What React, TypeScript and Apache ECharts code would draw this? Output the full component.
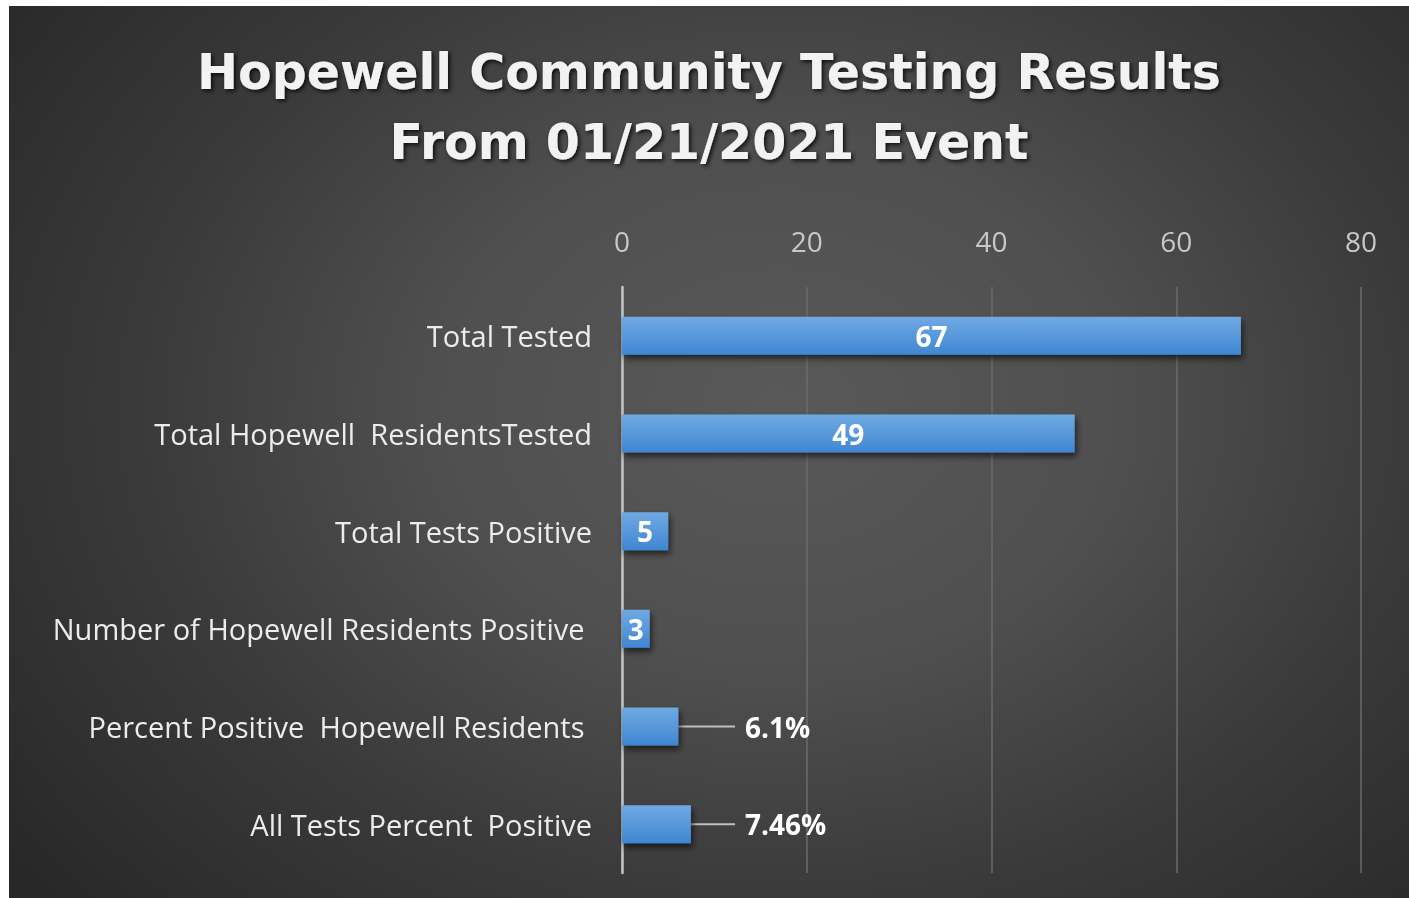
import React, { useEffect, useRef } from "react";
import * as echarts from "echarts";

const categories = [
  "Total Tested",
  "Total Hopewell  ResidentsTested",
  "Total Tests Positive",
  "Number of Hopewell Residents Positive ",
  "Percent Positive  Hopewell Residents ",
  "All Tests Percent  Positive",
];
const values = [67, 49, 5, 3, 6.1, 7.46];
const valueLabels = ["67", "49", "5", "3", "6.1%", "7.46%"];
const outsideLabel = [false, false, false, false, true, true];
const xTicks = { min: 0, max: 80, interval: 20 };
const titleLines = ["Hopewell Community Testing Results", "From 01/21/2021 Event"];

export default function App() {
  const ref = useRef<HTMLDivElement>(null);
  useEffect(() => {
    if (!ref.current) return;
    const chart = echarts.init(ref.current, undefined, { renderer: "svg" });
    const barColor = new echarts.graphic.LinearGradient(0, 0, 0, 1, [
      { offset: 0, color: "#6fa9e2" },
      { offset: 0.5, color: "#5898db" },
      { offset: 1, color: "#3f86d2" },
    ]);
    const labelFont = {
      color: "#ffffff",
      fontFamily: "Open Sans",
      fontWeight: "bold",
      fontSize: 28,
    };
    chart.setOption({
      animation: false,
      backgroundColor: "transparent",
      title: {
        text: titleLines.join("\n"),
        left: "center",
        top: 26,
        textStyle: {
          fontFamily: "DejaVu Sans",
          fontWeight: "bold",
          fontSize: 49,
          lineHeight: 70,
          color: "#f2f2f2",
          textShadowColor: "rgba(0,0,0,0.8)",
          textShadowBlur: 4,
          textShadowOffsetX: 2,
          textShadowOffsetY: 2,
        },
      },
      grid: { left: 613, right: 48, top: 281, bottom: 25, containLabel: false },
      xAxis: {
        type: "value",
        position: "top",
        min: xTicks.min,
        max: xTicks.max,
        interval: xTicks.interval,
        axisLine: { show: false },
        axisTick: { show: false },
        axisLabel: {
          color: "#c8c8c8",
          fontFamily: "Open Sans",
          fontSize: 28,
          margin: 32,
        },
        splitLine: { show: true, lineStyle: { color: "#6b6b6b", width: 1.5 } },
      },
      yAxis: {
        type: "category",
        inverse: true,
        data: categories,
        axisLine: { show: true, lineStyle: { color: "#c4c4c4", width: 2.5 } },
        axisTick: { show: false },
        axisLabel: {
          color: "#ececec",
          fontFamily: "Open Sans",
          fontSize: 29,
          margin: 30,
        },
      },
      series: [
        {
          type: "bar",
          barWidth: 38,
          data: values.map((v, i) => {
            const item: any = {
              value: v,
              label: {
                show: true,
                formatter: outsideLabel[i]
                  ? "{g|}{v|" + valueLabels[i] + "}"
                  : valueLabels[i],
                position: outsideLabel[i] ? "right" : "inside",
                distance: 10,
                rich: {
                  g: { width: 10, height: 28 },
                  v: labelFont,
                },
              },
            };
            if (outsideLabel[i]) {
              item.labelLine = {
                show: true,
                lineStyle: { color: "#bfbfbf", width: 2 },
              };
            }
            return item;
          }),
          itemStyle: {
            color: barColor,
            shadowColor: "rgba(0,0,0,0.6)",
            shadowBlur: 6,
            shadowOffsetX: 2,
            shadowOffsetY: 4,
          },
          label: labelFont,
          labelLayout: (params: any) =>
            outsideLabel[params.dataIndex]
              ? { dx: 726 - params.labelRect.x }
              : {},
        },
      ],
    });
    return () => chart.dispose();
  }, []);
  return (
    <div
      style={{
        position: "fixed",
        left: 9,
        top: 6,
        width: 1400,
        height: 892,
        background:
          "radial-gradient(ellipse 70% 85% at 55% 45%, #595959 0%, #4f4f4f 35%, #3a3a3a 65%, #272727 100%)",
      }}
    >
      <div ref={ref} style={{ width: 1400, height: 892 }} />
    </div>
  );
}
